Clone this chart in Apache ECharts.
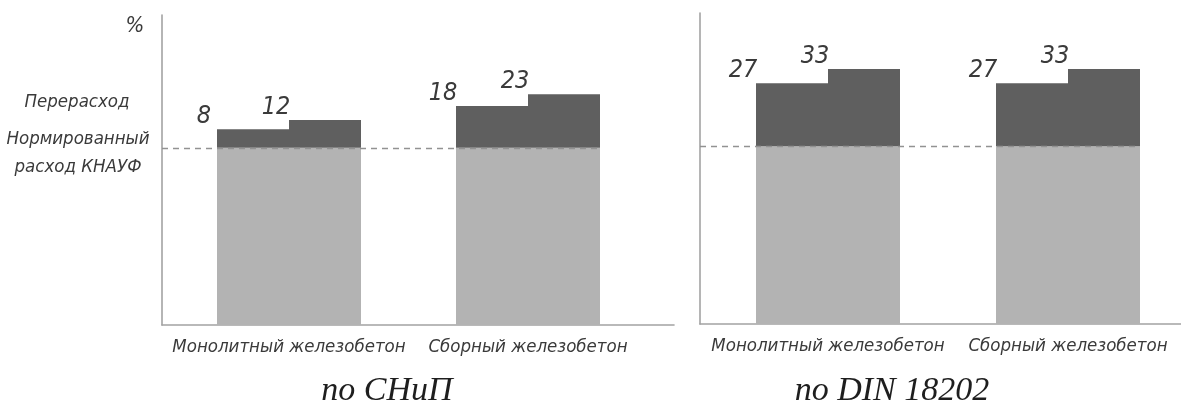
<!DOCTYPE html>
<html>
<head>
<meta charset="utf-8">
<script src="https://cdn.jsdelivr.net/npm/echarts@6/dist/echarts.min.js"></script>
<style>
  html, body { margin: 0; padding: 0; background: #ffffff; }
  #chart { width: 1181px; height: 403px; }
</style>
</head>
<body>
<div id="chart"></div>
<script>
// Material consumption: normative KNAUF level (100 %) and overrun per construction type
const categories = ['Монолитный железобетон', 'Сборный железобетон'];
const normLevel = [100, 100];
const snipOverrunLow = [8, 18];
const snipOverrunHigh = [12, 23];
const dinOverrunLow = [27, 27];
const dinOverrunHigh = [33, 33];
const panelTitles = ['по СНиП', 'по DIN 18202'];
const unitLabel = '%';
const overrunLabel = 'Перерасход';
const normLabelLines = ['Нормированный', 'расход КНАУФ'];

// value range of the (truncated) vertical axis
const Y_MIN = 24;
const Y_MAX = 157;

const GOST_FONT = "'Liberation Sans Narrow', 'DejaVu Sans Condensed', 'Liberation Sans', sans-serif";
const TEXT_COLOR = '#3a3a3a';
const BASE_COLOR = '#b3b3b3';
const OVER_COLOR = '#5f5f5f';
const AXIS_COLOR = '#a3a3a3';
const BAR_W = 72;

const panels = [
  { frameLeft: 162, frameWidth: 512, top: 15, height: 310, dataLeft: 169.5, dataWidth: 478,
    low: snipOverrunLow, high: snipOverrunHigh, titleX: 387 },
  { frameLeft: 700, frameWidth: 481, top: 13, height: 311, dataLeft: 708, dataWidth: 480,
    low: dinOverrunLow, high: dinOverrunHigh, titleX: 892 }
];

const grid = [], xAxis = [], yAxis = [], series = [];

panels.forEach((p, i) => {
  const frameIdx = grid.length;
  // frame grid: carries the axis lines only
  grid.push({ left: p.frameLeft, top: p.top, width: p.frameWidth, height: p.height,
              containLabel: false, outerBoundsMode: 'none' });
  xAxis.push({
    type: 'value', gridIndex: frameIdx, min: 0, max: 1,
    axisLine: { show: true, lineStyle: { color: AXIS_COLOR, width: 1.6 } },
    axisTick: { show: false }, axisLabel: { show: false }, splitLine: { show: false }
  });
  yAxis.push({
    type: 'value', gridIndex: frameIdx, min: Y_MIN, max: Y_MAX,
    axisLine: { show: true, lineStyle: { color: AXIS_COLOR, width: 1.6 } },
    axisTick: { show: false }, axisLabel: { show: false }, splitLine: { show: false }
  });

  const dataIdx = grid.length;
  // data grid: category slots for the bar groups
  grid.push({ left: p.dataLeft, top: p.top, width: p.dataWidth, height: p.height,
              containLabel: false, outerBoundsMode: 'none' });
  xAxis.push({
    type: 'category', gridIndex: dataIdx, data: categories,
    axisLine: { show: false }, axisTick: { show: false }, splitLine: { show: false },
    axisLabel: {
      interval: 0, hideOverlap: false, margin: 13,
      fontFamily: GOST_FONT, fontStyle: 'italic', fontSize: 18.5, color: TEXT_COLOR
    }
  });
  yAxis.push({
    type: 'value', gridIndex: dataIdx, min: Y_MIN, max: Y_MAX, show: false
  });

  const catW = p.dataWidth / categories.length;
  const dashEndX = p.dataLeft + catW * (categories.length - 0.5) + BAR_W;

  const valueLabel = {
    show: true, position: [-13, 0], align: 'center', verticalAlign: 'bottom',
    formatter: '{c}', fontFamily: GOST_FONT, fontStyle: 'italic', fontSize: 25, color: TEXT_COLOR
  };
  const common = { type: 'bar', xAxisIndex: dataIdx, yAxisIndex: dataIdx, barWidth: BAR_W, barGap: '0%' };

  series.push(Object.assign({}, common, {
    name: 'norm-low-' + i, stack: 'low' + i, data: normLevel,
    itemStyle: { color: BASE_COLOR },
    markLine: {
      silent: true, symbol: 'none', label: { show: false },
      lineStyle: { color: '#929292', width: 1.4, type: [6, 5] },
      data: [[{ yAxis: normLevel[0], x: p.frameLeft }, { yAxis: normLevel[0], x: dashEndX }]]
    }
  }));
  series.push(Object.assign({}, common, {
    name: 'over-low-' + i, stack: 'low' + i, data: p.low,
    itemStyle: { color: OVER_COLOR }, label: valueLabel
  }));
  series.push(Object.assign({}, common, {
    name: 'norm-high-' + i, stack: 'high' + i, data: normLevel,
    itemStyle: { color: BASE_COLOR }
  }));
  series.push(Object.assign({}, common, {
    name: 'over-high-' + i, stack: 'high' + i, data: p.high,
    itemStyle: { color: OVER_COLOR }, label: valueLabel
  }));
});

const sideText = (text, x, y, size, lineHeight) => ({
  type: 'text', x: x, y: y, silent: true,
  style: { text: text, fontFamily: GOST_FONT, fontStyle: 'italic', fontSize: size,
           lineHeight: lineHeight, fill: TEXT_COLOR, align: 'center', verticalAlign: 'middle' }
});

const graphic = [
  sideText(unitLabel, 135, 26, 22, 24),
  sideText(overrunLabel, 77, 102, 18.5, 22),
  sideText(normLabelLines.join('\n'), 78, 153, 18.5, 28)
];

panels.forEach((p, i) => {
  graphic.push({
    type: 'text', x: p.titleX, y: 391, silent: true,
    style: { text: panelTitles[i], fontFamily: "'Liberation Serif', 'DejaVu Serif', serif",
             fontStyle: 'italic', fontSize: 34, fill: '#1e1e1e', align: 'center', verticalAlign: 'middle' }
  });
});

const chart = echarts.init(document.getElementById('chart'), null, { renderer: 'canvas' });
chart.setOption({
  animation: false,
  backgroundColor: '#ffffff',
  grid: grid,
  xAxis: xAxis,
  yAxis: yAxis,
  series: series,
  graphic: graphic
});
</script>
</body>
</html>
